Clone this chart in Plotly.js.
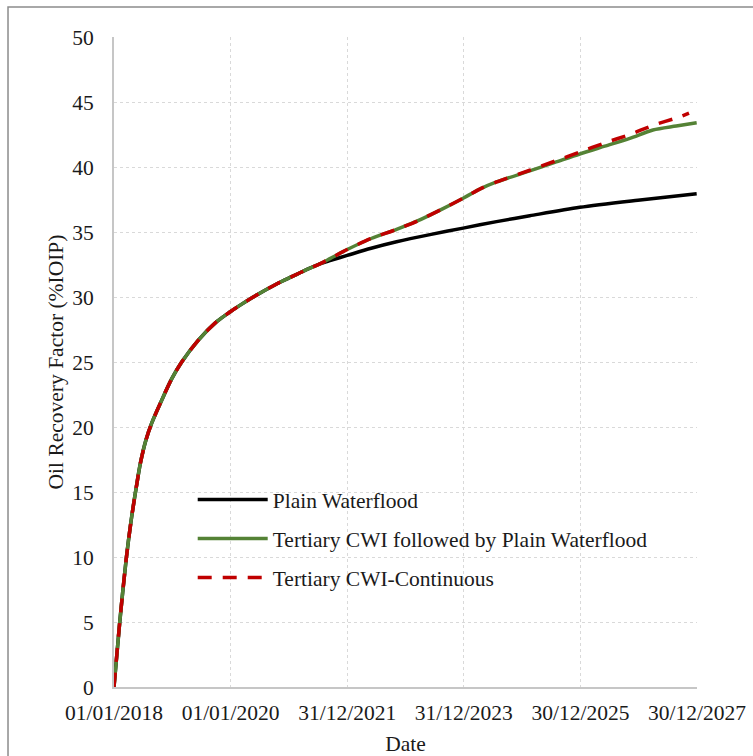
<!DOCTYPE html>
<html>
<head>
<meta charset="utf-8">
<script src="https://cdn.plot.ly/plotly-3.0.1.min.js"></script>
<style>
  html, body { margin: 0; padding: 0; background: #ffffff; }
  #chart { width: 753px; height: 756px; }
</style>
</head>
<body>
<div id="chart"></div>
<script>
// Oil recovery factor (%IOIP) over time for three injection scenarios.

// Shared early-time history (identical for all scenarios)
const commonDates = [
  '2018-01-01', '2018-02-06', '2018-03-18', '2018-04-17', '2018-05-21',
  '2018-06-15', '2018-07-20', '2018-08-25', '2018-10-28', '2018-12-28',
  '2019-03-01', '2019-06-12', '2019-10-06', '2019-12-28', '2020-03-11',
  '2020-05-22', '2020-10-15', '2021-01-25', '2021-04-20', '2021-07-13'
];
const commonRF = [
  0, 5.0, 9.8, 12.7, 15.4,
  17.2, 19.0, 20.3, 22.1, 23.7,
  25.0, 26.67, 28.1, 28.85, 29.45,
  30.0, 31.0, 31.6, 32.1, 32.55
];

// Plain waterflood
const plainDates = [
  '2021-09-14', '2021-12-31', '2022-05-30', '2022-11-05', '2023-06-02',
  '2023-12-27', '2024-07-23', '2025-02-16', '2025-12-26', '2026-12-25',
  '2027-12-28'
];
const plainRF = [
  32.8, 33.2, 33.75, 34.25, 34.8,
  35.3, 35.8, 36.25, 36.9, 37.45,
  37.95
];

// Tertiary CWI followed by plain waterflood
const cwiWfDates = [
  '2021-09-14', '2021-12-31', '2022-05-30', '2022-11-05', '2023-03-16',
  '2023-08-23', '2023-12-27', '2024-04-09', '2024-07-23', '2025-02-16',
  '2025-07-23', '2025-12-26', '2026-05-31', '2026-11-04', '2027-03-29',
  '2027-08-22', '2027-12-28'
];
const cwiWfRF = [
  32.95, 33.65, 34.5, 35.2, 35.85,
  36.8, 37.6, 38.3, 38.85, 39.7,
  40.35, 41.0, 41.6, 42.2, 42.85,
  43.15, 43.4
];

// Tertiary CWI, continuous
const cwiContDates = [
  '2021-09-14', '2021-12-31', '2022-05-30', '2022-11-05', '2023-03-16',
  '2023-08-23', '2023-12-27', '2024-04-09', '2024-07-23', '2025-02-16',
  '2025-07-23', '2025-12-26', '2026-05-31', '2026-11-04', '2027-03-29',
  '2027-09-11', '2027-11-10'
];
const cwiContRF = [
  32.95, 33.65, 34.5, 35.2, 35.85,
  36.8, 37.6, 38.3, 38.85, 39.75,
  40.45, 41.15, 41.85, 42.5, 43.2,
  43.85, 44.15
];

const seriesNames = [
  'Plain Waterflood',
  'Tertiary CWI followed by Plain Waterflood',
  'Tertiary CWI-Continuous'
];

const xTickVals = ['2018-01-01', '2020-01-01', '2021-12-31', '2023-12-31', '2025-12-30', '2027-12-30'];
const xTickText = ['01/01/2018', '01/01/2020', '31/12/2021', '31/12/2023', '30/12/2025', '30/12/2027'];
const yTickVals = [0, 5, 10, 15, 20, 25, 30, 35, 40, 45, 50];

const FONT = 'Liberation Serif, Times New Roman, serif';
const FS = 21.5;
const TXT = '#1a1a1a';

const traces = [
  {
    x: commonDates.concat(plainDates),
    y: commonRF.concat(plainRF),
    name: seriesNames[0], legendgroup: 'a',
    mode: 'lines', line: { color: '#000000', width: 3.5, shape: 'spline', smoothing: 0.8 }
  },
  {
    x: commonDates.concat(cwiWfDates),
    y: commonRF.concat(cwiWfRF),
    name: seriesNames[1], legendgroup: 'b',
    mode: 'lines', line: { color: '#548235', width: 3.5, shape: 'spline', smoothing: 0.8 }
  },
  {
    x: commonDates.concat(cwiContDates),
    y: commonRF.concat(cwiContRF),
    name: seriesNames[2], legendgroup: 'c',
    mode: 'lines', line: { color: '#c00000', width: 3.5, dash: '14px,11px', shape: 'spline', smoothing: 0.8 }
  }
];

const layout = {
  width: 753, height: 756,
  margin: { l: 114, r: 56, t: 37, b: 69 },
  paper_bgcolor: '#ffffff', plot_bgcolor: '#ffffff',
  font: { family: FONT, size: FS, color: TXT },
  showlegend: true,
  legend: {
    x: 0.135, y: 0.32, xanchor: 'left', yanchor: 'top',
    bgcolor: 'rgba(0,0,0,0)', borderwidth: 0,
    traceorder: 'grouped', tracegroupgap: 8,
    itemwidth: 70,
    font: { family: FONT, size: FS, color: TXT }
  },
  xaxis: {
    type: 'date',
    range: ['2018-01-01', '2027-12-30'],
    tickmode: 'array', tickvals: xTickVals, ticktext: xTickText,
    ticks: '', ticklabelstandoff: 5,
    showgrid: true, gridcolor: '#d9d9d9', griddash: 'dot', gridwidth: 1,
    showline: true, linecolor: '#c6c6c6', linewidth: 2,
    zeroline: false,
    tickfont: { family: FONT, size: FS, color: TXT },
    title: { text: 'Date', font: { family: FONT, size: FS, color: TXT }, standoff: 12 }
  },
  yaxis: {
    range: [0, 50],
    tickmode: 'array', tickvals: yTickVals,
    ticks: '', ticklabelstandoff: 14,
    showgrid: true, gridcolor: '#d9d9d9', griddash: 'dot', gridwidth: 1,
    showline: true, linecolor: '#c6c6c6', linewidth: 2,
    zeroline: false,
    tickfont: { family: FONT, size: FS, color: TXT },
    title: { text: 'Oil Recovery Factor (%IOIP)', font: { family: FONT, size: FS, color: TXT }, standoff: 3 }
  },
  shapes: [
    {
      type: 'rect', xref: 'paper', yref: 'paper',
      x0: -0.1818, x1: 1.5, y0: -0.5, y1: 1.0462,
      line: { color: '#8c8c8c', width: 1.5 }, fillcolor: 'rgba(0,0,0,0)',
      layer: 'below'
    }
  ]
};

Plotly.newPlot('chart', traces, layout, { displayModeBar: false, staticPlot: true });
</script>
</body>
</html>
